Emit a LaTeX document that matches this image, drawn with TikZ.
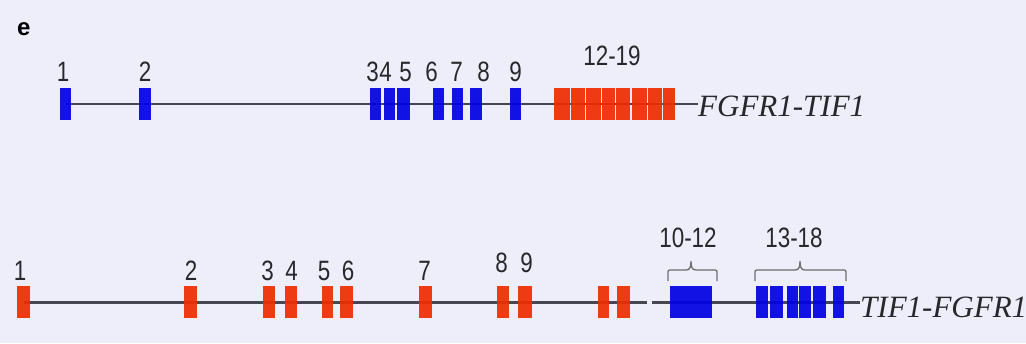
\documentclass[tikz,border=0pt]{standalone}
\usepackage{fontspec}
\setmainfont{Liberation Serif}
\newfontfamily\numfont[FakeStretch=0.8]{Liberation Sans}
\newfontfamily\panelfont{Liberation Sans}
\definecolor{bgcol}{RGB}{237,238,250}
\definecolor{exblue}{RGB}{0,0,228}
\definecolor{exred}{RGB}{240,44,0}
\definecolor{bbcol}{RGB}{70,70,84}
\definecolor{numcol}{RGB}{40,40,44}
\definecolor{bracecol}{RGB}{110,110,110}
\tikzset{
  exonbox/.style={rectangle, inner sep=0pt, minimum height=32pt, fill opacity=0.92, draw=none},
  blueexon/.style={exonbox, fill=exblue},
  redexon/.style={exonbox, fill=exred},
  backbone/.style={draw=bbcol, line width=2.2pt},
  exnum/.style={inner sep=0pt, anchor=base, text=numcol, font=\numfont\fontsize{28}{28}\selectfont},
  genename/.style={inner sep=0pt, anchor=base west, text=numcol, font=\itshape\fontsize{31}{31}\selectfont},
  bracestyle/.style={draw=bracecol, line width=1.3pt},
}
% curly brace over a group of exons: left x, right x, tip x
\newcommand\exonbrace[3]{%
  \draw[bracestyle] (#1,281) -- (#1,274)
    .. controls (#1,270) .. (#1+4,270) -- (#3-5,270)
    .. controls (#3-1,270) and (#3,267) .. (#3,261)
    .. controls (#3,267) and (#3+1,270) .. (#3+5,270) -- (#2-4,270)
    .. controls (#2,270) .. (#2,274) -- (#2,281);}
\begin{document}
\begin{tikzpicture}[x=1pt, y=-1pt]
\useasboundingbox (0,0) rectangle (1026,343);
\fill[bgcol] (0,0) rectangle (1026,343);

\node[inner sep=0pt, anchor=base west, font=\panelfont\bfseries\fontsize{24}{24}\selectfont] (panel) at (17,35) {e};

% ---------------- FGFR1-TIF1 ----------------
\node[genename] (topname) at (698,116) {FGFR1-TIF1};
\coordinate (topstart) at (65.5,104);
\draw[backbone] (topstart) -- (topname.west |- topstart);

\foreach \n/\x/\w in {1/65.5/11, 2/145/12, 3/375.5/11, 4/389.5/11, 5/403.5/13,
                      6/438/11, 7/457.5/11, 8/476/12, 9/515.5/11}
  \node[blueexon, minimum width=\w pt] (t\n) at (\x,104) {};
\foreach \n/\x/\w in {12/562/16, 13/578/14, 14/593.5/15, 15/608.5/13,
                      16/623/14, 17/639.5/15, 18/655/14, 19/669/12}
  \node[redexon, minimum width=\w pt] (t\n) at (\x,104) {};

\foreach \n/\x in {1/63, 2/145, 3/372.5, 4/385.5, 5/405.5, 6/431.5, 7/456.5, 8/483.5, 9/515.5}
  \node[exnum] (tl\n) at (\x,81) {\n};
\node[exnum] (tl12) at (612,65) {12-19};

% ---------------- TIF1-FGFR1 ----------------
\node[genename] (botname) at (860,317) {TIF1-FGFR1};
\coordinate (botstart) at (23.5,302.5);
\coordinate (gapl) at (647,302.5);
\coordinate (gapr) at (652,302.5);
\draw[backbone] (botstart) -- (gapl);
\draw[backbone] (gapr) -- (botname.west |- gapr);

\foreach \n/\x/\w in {1/23.5/13, 2/190.5/13, 3/269/12, 4/291/12, 5/327.5/11,
                      6/346.5/13, 7/425.5/13, 8/503/12, 9/524.5/14, 10/603.5/11, 11/623.5/13}
  \node[redexon, minimum width=\w pt] (b\n) at (\x,302) {};
\node[blueexon, minimum width=42pt] (b12) at (691,302) {};
\foreach \n/\x/\w in {13/761.5/12, 14/776/13, 15/792/11, 16/804.5/12, 17/819/13, 18/838/11}
  \node[blueexon, minimum width=\w pt] (b\n) at (\x,302) {};

\foreach \n/\x in {1/20, 2/191, 3/267.5, 4/291.5, 5/324, 6/348, 7/424.5}
  \node[exnum] (bl\n) at (\x,280) {\n};
\node[exnum] (bl8) at (501.5,272) {8};
\node[exnum] (bl9) at (526.5,272) {9};
\node[exnum] (bl10) at (688,247) {10-12};
\node[exnum] (bl13) at (794,247) {13-18};

\exonbrace{668}{717}{691}
\exonbrace{755}{846}{800}
\end{tikzpicture}
\end{document}
